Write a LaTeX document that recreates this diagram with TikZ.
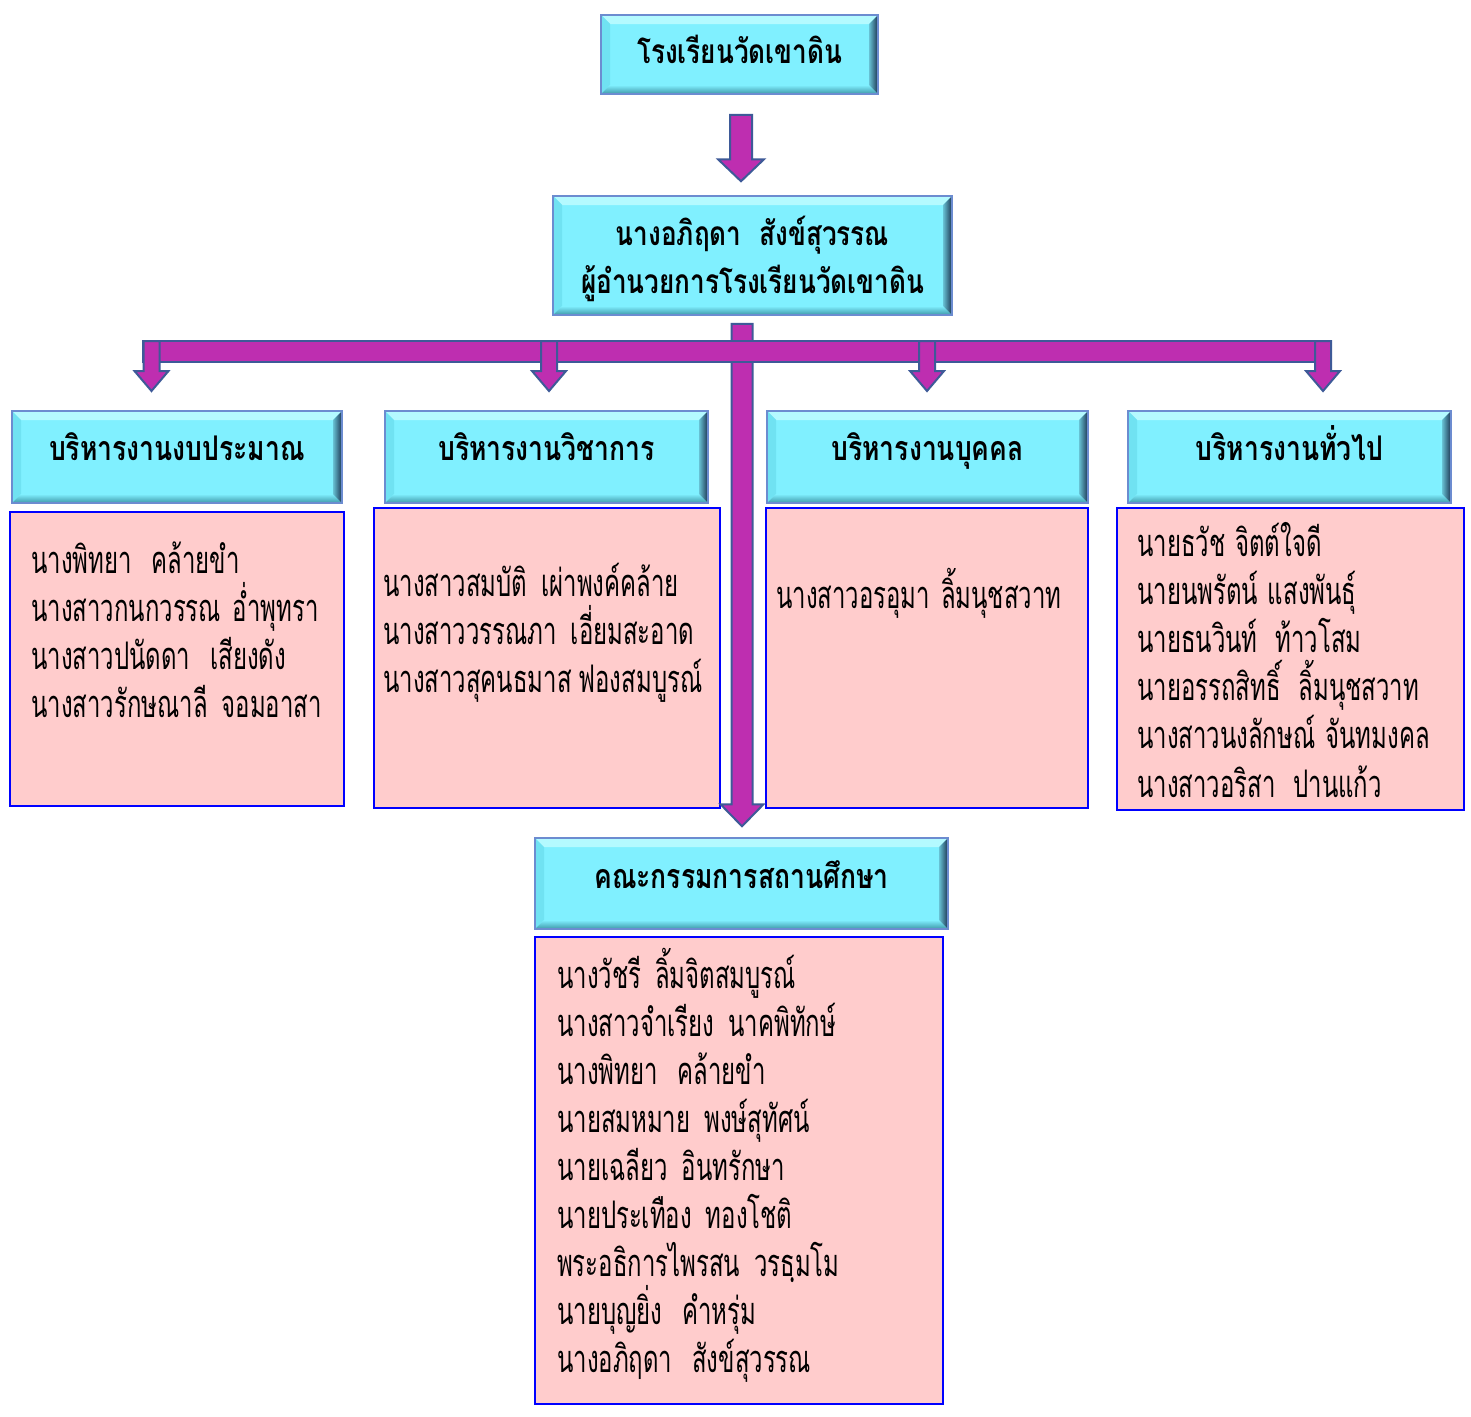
\documentclass[tikz,border=0pt]{standalone}
\usepackage{fontspec}
\usetikzlibrary{calc}
\newfontfamily\thbody[Script=Thai,FakeStretch=0.63]{Loma}
\newfontfamily\thhead[Script=Thai,FakeStretch=0.78]{Loma}
\definecolor{cyanfill}{HTML}{80F0FF}
\definecolor{cyantop}{HTML}{B4FAFF}
\definecolor{cyanleft}{HTML}{70E2F2}
\definecolor{cyanbot}{HTML}{3E97A8}
\definecolor{cyanright}{HTML}{1C3552}
\definecolor{cyanline}{HTML}{6C8CD0}
\definecolor{pinkfill}{HTML}{FFCCCC}
\definecolor{pinkline}{HTML}{0000FF}
\definecolor{arrfill}{HTML}{BE2EB0}
\definecolor{arrline}{HTML}{3E5A98}
\tikzset{
  cyanbox/.style={rectangle, inner sep=0pt, fill=cyanfill, draw=cyanline, line width=1.5pt,
    path picture={
      \path (path picture bounding box.north west) coordinate (ppnw)
            (path picture bounding box.north east) coordinate (ppne)
            (path picture bounding box.south west) coordinate (ppsw)
            (path picture bounding box.south east) coordinate (ppse);
      \fill[cyantop] (ppnw) -- (ppne) -- ($(ppne)+(-9,-9)$) -- ($(ppnw)+(9,-9)$) -- cycle;
      \fill[cyanleft] (ppnw) -- ($(ppnw)+(9,-9)$) -- ($(ppsw)+(9,9)$) -- (ppsw) -- cycle;
      \shade[top color=cyanfill, bottom color=cyanbot] (ppsw) -- ($(ppsw)+(9,9)$) -- ($(ppse)+(-9,9)$) -- (ppse) -- cycle;
      \shade[left color=cyanfill!75!cyanright, right color=cyanright] (ppne) -- (ppse) -- ($(ppse)+(-9,9)$) -- ($(ppne)+(-9,-9)$) -- cycle;
    }},
  pinkbox/.style={rectangle, inner sep=0pt, fill=pinkfill, draw=pinkline, line width=2.5pt},
  blockarr/.style={fill=arrfill, draw=arrline, line width=2pt, line join=miter},
  bodytxt/.style={font=\thbody\fontsize{38pt}{40pt}\selectfont, inner sep=0pt, anchor=base west},
  headtxt/.style={font=\thhead\bfseries\fontsize{34pt}{36pt}\selectfont, inner sep=0pt, anchor=base},
  toptxt/.style={font=\thhead\bfseries\fontsize{33.5pt}{35pt}\selectfont, inner sep=0pt, anchor=base},
}
\newcommand\blkarrow[5]{%
  \draw[blockarr] let \p1=(#1), \p2=(#2) in
  ({\x2-#3pt},\y1) -- ({\x2+#3pt},\y1) -- ({\x2+#3pt},{\y2+#5pt}) -- ({\x2+#4pt},{\y2+#5pt})
  -- (\x2,\y2) -- ({\x2-#4pt},{\y2+#5pt}) -- ({\x2-#3pt},{\y2+#5pt}) -- cycle;}
\newcommand\gp[1]{\hspace{#1pt}}
\begin{document}
\begin{tikzpicture}[x=1pt,y=1pt]
\useasboundingbox (0,0) rectangle (1471,-1416);
\fill[white] (0,0) rectangle (1471,-1416);

% cyan boxes
\node[cyanbox, minimum width=277pt, minimum height=79pt] (top) at (739.5,-54.5) {};
\node[cyanbox, minimum width=399pt, minimum height=119pt] (dir) at (752.5,-255.5) {};
\node[cyanbox, minimum width=330pt, minimum height=92pt] (hA) at (177,-457) {};
\node[cyanbox, minimum width=323pt, minimum height=92pt] (hB) at (546.5,-457) {};
\node[cyanbox, minimum width=321pt, minimum height=92pt] (hC) at (927.5,-457) {};
\node[cyanbox, minimum width=323pt, minimum height=92pt] (hD) at (1289.5,-457) {};
\node[cyanbox, minimum width=413pt, minimum height=91pt] (hE) at (741.5,-883.5) {};

% pink boxes
\node[pinkbox, minimum width=334pt, minimum height=294pt] (pA) at (177,-659) {};
\node[pinkbox, minimum width=346pt, minimum height=300pt] (pB) at (547,-658) {};
\node[pinkbox, minimum width=322pt, minimum height=300pt] (pC) at (927,-658) {};
\node[pinkbox, minimum width=347pt, minimum height=302pt] (pD) at (1290.5,-659) {};
\node[pinkbox, minimum width=408pt, minimum height=467pt] (pE) at (739,-1170.5) {};

% header texts
\node[toptxt] (ttop) at (739.5,-63) {โรงเรียนวัดเขาดิน};
\node[toptxt] (tdir1) at (752.5,-245) {นางอภิฤดา\gp{18}สังข์สุวรรณ};
\node[toptxt] (tdir2) at (752.5,-293) {ผู้อำนวยการโรงเรียนวัดเขาดิน};
\node[headtxt] (thA) at (177,-460) {บริหารงานงบประมาณ};
\node[headtxt] (thB) at (546.5,-460) {บริหารงานวิชาการ};
\node[headtxt] (thC) at (927.5,-460) {บริหารงานบุคคล};
\node[headtxt] (thD) at (1289.5,-460) {บริหารงานทั่วไป};
\node[headtxt] (thE) at (741.5,-888) {คณะกรรมการสถานศึกษา};

% body texts
\foreach \t [count=\i] in {นางพิทยา\gp{20}คล้ายขำ, นางสาวกนกวรรณ\gp{12}อ่ำพุทรา, นางสาวปนัดดา\gp{20}เสียงดัง, นางสาวรักษณาลี\gp{14}จอมอาสา}
  \node[bodytxt] (tA\i) at (31,{-573-48*(\i-1)}) {\t};
\foreach \t [count=\i] in {นางสาวสมบัติ\gp{14}เผ่าพงค์คล้าย, นางสาววรรณภา\gp{14}เอี่ยมสะอาด, นางสาวสุคนธมาส\gp{7}ฟองสมบูรณ์}
  \node[bodytxt] (tB\i) at (383,{-596-48*(\i-1)}) {\t};
\node[bodytxt] (tC1) at (776,-608) {นางสาวอรอุมา\gp{11}ลิ้มนุชสวาท};
\foreach \t [count=\i] in {นายธวัช\gp{10}จิตต์ใจดี, นายนพรัตน์\gp{10}แสงพันธุ์, นายธนวินท์\gp{18}ท้าวโสม, นายอรรถสิทธิ์\gp{18}ลิ้มนุชสวาท, นางสาวนงลักษณ์\gp{10}จันทมงคล, นางสาวอริสา\gp{18}ปานแก้ว}
  \node[bodytxt] (tD\i) at (1137,{-556-48.2*(\i-1)}) {\t};
\foreach \t [count=\i] in {นางวัชรี\gp{14}ลิ้มจิตสมบูรณ์, นางสาวจำเรียง\gp{14}นาคพิทักษ์, นางพิทยา\gp{20}คล้ายขำ, นายสมหมาย\gp{14}พงษ์สุทัศน์, นายเฉลียว\gp{14}อินทรักษา, นายประเทือง\gp{14}ทองโชติ, พระอธิการไพรสน\gp{14}วรธฺมโม, นายบุญยิ่ง\gp{20}คำหรุ่ม, นางอภิฤดา\gp{20}สังข์สุวรรณ}
  \node[bodytxt] (tE\i) at (557,{-988-48*(\i-1)}) {\t};

% arrows
\coordinate (a1s) at ($(top.south)+(1.5,-20)$);
\coordinate (a1t) at ($(dir.north)+(-11.5,14)$);
\blkarrow{a1s}{a1t}{11}{23}{22}
\coordinate (cs) at ($(dir.south)+(-10.5,-8)$);
\coordinate (ct) at ($(hE.north)+(0.5,11)$);
\blkarrow{cs}{ct}{10.5}{21.5}{22}
\coordinate (barL) at (143,-351.5);
\coordinate (barR) at (1331,-351.5);
\draw[blockarr] ($(barL)+(0,10.5)$) rectangle ($(barR)+(0,-10.5)$);
\foreach \bn/\xx in {A/151.5, B/549, C/927, D/1323} {
  \coordinate (br\bn s) at (\xx,-341);
  \coordinate (br\bn t) at (\xx,-391);
}
\blkarrow{brAs}{brAt}{8}{17}{20}
\blkarrow{brBs}{brBt}{8}{17}{20}
\blkarrow{brCs}{brCt}{8}{17}{20}
\blkarrow{brDs}{brDt}{8}{17}{20}
\end{tikzpicture}
\end{document}
